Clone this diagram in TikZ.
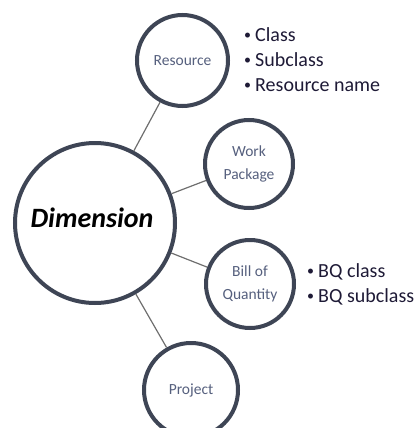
\documentclass[tikz,border=0pt]{standalone}
\usepackage{fontspec}
\setmainfont{Carlito}
\definecolor{ringc}{HTML}{3E4555}
\definecolor{linec}{HTML}{6E6E6E}
\definecolor{smalltext}{HTML}{56607E}
\definecolor{listtext}{HTML}{1E1A36}
\newcommand{\blt}{\makebox[11pt][l]{\raisebox{1.5pt}{\fontsize{14}{14}\selectfont •}}}
\begin{document}
\begin{tikzpicture}[x=1pt,y=-1pt,
 ring/.style={circle,draw=ringc,line width=4pt,fill=white,inner sep=0pt,text=smalltext,font=\fontsize{15.5}{23}\selectfont,align=center},
 link/.style={draw=linec,line width=1.2pt},
 listnode/.style={anchor=north west,align=left,text=listtext,font=\fontsize{20}{25}\selectfont,inner sep=0pt},
 bigtext/.style={font=\fontsize{28}{30}\selectfont\bfseries\itshape,text=black,anchor=base,inner sep=0pt}]
\useasboundingbox (0,0) rectangle (415,428);
\node[ring,minimum size=91pt] (res) at (182.5,60.5) {Resource};
\node[ring,minimum size=88pt] (wp) at (249,164) {Work\\Package};
\node[ring,minimum size=160pt] (dim) at (95,223) {};
\node[ring,minimum size=88pt] (boq) at (250,284) {Bill of\\Quantity};
\node[ring,minimum size=94pt] (proj) at (191,390) {Project};
\node[bigtext] (dimtext) at (92,227) {Dimension};
\draw[link] (res) -- (dim);
\draw[link] (wp) -- (dim);
\draw[link] (boq) -- (dim);
\draw[link] (proj) -- (dim);
\node[listnode] (reslist) at (244,27) {\blt Class\\\blt Subclass\\\blt Resource name};
\node[listnode] (boqlist) at (307,263) {\blt BQ class\\\blt BQ subclass};
\end{tikzpicture}
\end{document}
